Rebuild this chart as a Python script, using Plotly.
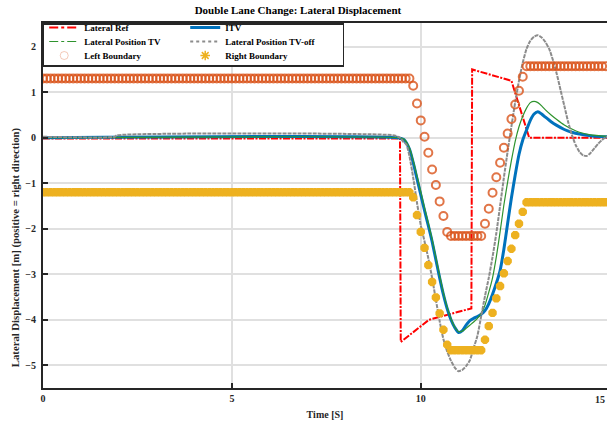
import plotly.graph_objects as go

# ---------------- data ----------------
ref_t = [0.0, 9.45, 9.47, 10.22, 11.34, 11.36, 12.40, 12.87, 14.93]
ref_y = [-0.02, -0.02, -4.49, -4.00, -3.75, 1.50, 1.25, 0.00, 0.00]

itv_t = [0.0, 9.40, 9.55, 9.70, 9.80, 9.90,
         10.0, 10.1, 10.2, 10.3, 10.4, 10.5, 10.6, 10.7, 10.8, 10.9,
         11.0, 11.1, 11.2, 11.3, 11.4, 11.5, 11.6, 11.7, 11.8, 11.9,
         12.0, 12.1, 12.2, 12.3, 12.4, 12.5, 12.6, 12.7, 12.8, 12.9,
         13.0, 13.1, 13.2, 13.3,
         13.45, 13.60, 13.80, 14.00, 14.20, 14.50, 14.93]
itv_y = [0.0, 0.0, -0.04, -0.25, -0.55, -0.90,
         -1.25, -1.60, -1.93, -2.28, -2.68, -3.08, -3.45, -3.76, -4.00, -4.17,
         -4.28, -4.24, -4.12, -4.02, -3.97, -3.93, -3.88, -3.80, -3.65, -3.44,
         -3.20, -2.92, -2.45, -1.88, -1.32, -0.82, -0.37, -0.05, 0.17, 0.38,
         0.52, 0.57, 0.52, 0.45,
         0.35, 0.27, 0.18, 0.12, 0.08, 0.04, 0.02]

tv_t = itv_t
tv_y = [0.0, 0.0, -0.03, -0.22, -0.50, -0.84,
        -1.19, -1.54, -1.88, -2.23, -2.63, -3.03, -3.41, -3.73, -3.98, -4.16,
        -4.26, -4.25, -4.19, -4.12, -4.05, -3.97, -3.86, -3.68, -3.40, -3.08,
        -2.62, -2.07, -1.48, -0.97, -0.50, -0.08, 0.24, 0.47, 0.65, 0.77,
        0.80, 0.77, 0.70, 0.61,
        0.50, 0.40, 0.28, 0.19, 0.12, 0.06, 0.03]

off_t = [0.0, 1.90, 1.95, 9.30, 9.45, 9.55, 9.62, 9.70, 9.80, 9.90,
         10.0, 10.1, 10.2, 10.3, 10.4, 10.5, 10.6, 10.7, 10.8, 10.9,
         11.0, 11.1, 11.2, 11.3, 11.4, 11.5, 11.6, 11.7, 11.8, 11.9,
         12.0, 12.1, 12.2, 12.3, 12.4, 12.5, 12.6, 12.7, 12.8, 12.9,
         13.0, 13.1, 13.2, 13.3, 13.4, 13.5, 13.6, 13.7, 13.8, 13.9,
         14.0, 14.1, 14.2, 14.3, 14.4, 14.5, 14.6, 14.7, 14.8, 14.9, 14.93]
off_y = [0.02, 0.02, 0.05, 0.05, 0.00, -0.10, -0.15, -0.40, -0.88, -1.43,
         -1.92, -2.28, -2.65, -3.08, -3.56, -4.03, -4.43, -4.70, -4.90, -5.05,
         -5.13, -5.10, -5.02, -4.89, -4.62, -4.35, -3.92, -3.48, -3.08, -2.62,
         -2.10, -1.50, -0.88, -0.30, 0.25, 0.78, 1.25, 1.65, 1.95, 2.13,
         2.22, 2.25, 2.20, 2.10, 1.95, 1.70, 1.40, 1.05, 0.70, 0.35,
         0.06, -0.16, -0.31, -0.39, -0.40, -0.33, -0.23, -0.13, -0.05, 0.01, 0.02]

# boundaries sampled every 0.1 s (150 samples, t = 0.0 ... 14.9)
boundary_t = [round(0.1 * k, 1) for k in range(150)]
left_boundary = ([1.30] * 98
                 + [1.14, 0.75, 0.38, 0.02, -0.33, -0.70, -1.04, -1.40, -1.72, -2.07]
                 + [-2.16] * 9
                 + [-1.89, -1.56, -1.21, -0.87, -0.55, -0.22, 0.09, 0.41, 0.73, 1.03, 1.34]
                 + [1.57] * 22)
right_boundary = ([-1.20] * 98
                  + [-1.31, -1.70, -2.07, -2.42, -2.80, -3.17, -3.51, -3.86, -4.22, -4.55]
                  + [-4.67] * 9
                  + [-4.44, -4.14, -3.85, -3.53, -3.26, -2.98, -2.71, -2.44, -2.14, -1.89, -1.63]
                  + [-1.42] * 22)

x_ticks = [0, 5, 10]
x_edge_tick = "15"          # tick label at the right edge of the figure
y_ticks = [-5, -4, -3, -2, -1, 0, 1, 2]

# ---------------- styles ----------------
FONT = "Liberation Serif"
AX = "#262626"
RED = "#FF0000"
BLUE = "#0072BD"
GREEN = "#2E932E"
GRAY = "#8C8C8C"
ORANGE = "rgba(217,83,25,0.8)"
YELLOW = "#EDB120"
X_MAX = 14.93

fig = go.Figure()

# data traces (legend keys are separate key-only traces below)
fig.add_trace(go.Scatter(x=ref_t, y=ref_y, mode="lines", showlegend=False,
                         line=dict(color=RED, width=2, dash="7px,1.5px,2px,1.5px")))
fig.add_trace(go.Scatter(x=itv_t, y=itv_y, mode="lines", showlegend=False,
                         line=dict(color=BLUE, width=3, shape="spline", smoothing=0.6)))
fig.add_trace(go.Scatter(x=tv_t, y=tv_y, mode="lines", showlegend=False,
                         line=dict(color=GREEN, width=1.2, shape="spline", smoothing=0.6)))
fig.add_trace(go.Scatter(x=off_t, y=off_y, mode="lines", showlegend=False,
                         line=dict(color=GRAY, width=2, dash="4px,1px", shape="spline", smoothing=0.6)))
fig.add_trace(go.Scatter(x=boundary_t, y=left_boundary, mode="markers", showlegend=False,
                         marker=dict(symbol="circle-open", size=8, color=ORANGE,
                                     line=dict(color=ORANGE, width=2))))
fig.add_trace(go.Scatter(x=boundary_t, y=right_boundary, mode="markers", showlegend=False,
                         marker=dict(symbol="asterisk-open", size=7, color=YELLOW,
                                     line=dict(color=YELLOW, width=3.2))))

# legend keys
fig.add_trace(go.Scatter(x=[None], y=[None], mode="lines", name="Lateral Ref",
                         line=dict(color=RED, width=2, dash="dashdot")))
fig.add_trace(go.Scatter(x=[None], y=[None], mode="lines", name="ITV",
                         line=dict(color=BLUE, width=3)))
fig.add_trace(go.Scatter(x=[None], y=[None], mode="lines", name="Lateral Position TV",
                         line=dict(color=GREEN, width=1.2, dash="dashdot")))
fig.add_trace(go.Scatter(x=[None], y=[None], mode="lines", name="Lateral Position TV-off",
                         line=dict(color=GRAY, width=2, dash="dot")))
fig.add_trace(go.Scatter(x=[None], y=[None], mode="markers", name="Left Boundary",
                         marker=dict(symbol="circle-open", size=8, color="rgba(217,83,25,0.3)",
                                     line=dict(color="rgba(217,83,25,0.3)", width=1))))
fig.add_trace(go.Scatter(x=[None], y=[None], mode="markers", name="Right Boundary",
                         marker=dict(symbol="asterisk-open", size=8, color=YELLOW,
                                     line=dict(color=YELLOW, width=1.5))))

tickfont = dict(family=FONT, size=10, color=AX, weight="bold")
titlefont = dict(family=FONT, size=10, color=AX, weight="bold")

fig.update_layout(
    width=607, height=423,
    margin=dict(l=43, r=0, t=23, b=35, autoexpand=False),
    paper_bgcolor="white", plot_bgcolor="white",
    title=dict(text="Double Lane Change: Lateral Displacement", x=0.452, xref="paper",
               xanchor="center", y=0.975, yref="container", yanchor="middle",
               font=dict(family=FONT, size=11, color="black", weight="bold")),
    showlegend=True,
    legend=dict(orientation="h", x=-0.0005, xanchor="left", y=1, yanchor="top",
                entrywidth=96, entrywidthmode="pixels",
                bgcolor="white", bordercolor=AX, borderwidth=1.5,
                font=dict(family=FONT, size=9, color="black", weight="bold"),
                itemwidth=30, traceorder="normal"),
    xaxis=dict(range=[0, X_MAX], tickvals=x_ticks, ticks="inside", ticklen=5,
               tickwidth=1.5, tickcolor=AX, showline=True, linecolor=AX, linewidth=2,
               mirror=True, showgrid=True, gridcolor="#E0E0E0", gridwidth=1.5,
               zeroline=False, tickfont=tickfont,
               title=dict(text="Time [S]", font=titlefont, standoff=8)),
    yaxis=dict(range=[-5.5, 2.52], tickvals=y_ticks, ticks="inside", ticklen=5,
               tickwidth=1.5, tickcolor=AX, showline=True, linecolor=AX, linewidth=2,
               showgrid=True, gridcolor="#E0E0E0", gridwidth=1.5,
               zeroline=False, tickfont=tickfont, ticklabelstandoff=3),
    annotations=[
        dict(text="Lateral Displacement [m] (positive = right direction)",
             xref="paper", yref="paper", x=-0.0496, y=0.386,
             xanchor="center", yanchor="middle", textangle=-90, showarrow=False,
             font=dict(family=FONT, size=10.7, color=AX, weight="bold")),
        dict(text=x_edge_tick, xref="paper", yref="paper",
             x=1.0, y=-0.0315, xanchor="right", yanchor="middle", showarrow=False,
             font=tickfont),
    ],
)

# compact the legend into a MATLAB-style tight box: 3 rows x 2 columns
post_js = """
(function(){
  var gd = document.getElementById('{plot_id}');
  function fix(){
    var lg = gd.querySelector('g.legend');
    if(!lg) return;
    var items = lg.querySelectorAll('g.traces');
    if(!items.length) return;
    var tr0 = items[0].getAttribute('transform') || '';
    var m = tr0.match(/translate\\(\\s*([-\\d.eE]+)[ ,]+([-\\d.eE]+)\\s*\\)/);
    var x0 = m ? parseFloat(m[1]) : 0;
    for (var i = 0; i < items.length; i++){
      var row = Math.floor(i / 2), col = i % 2;
      items[i].setAttribute('transform',
        'translate(' + (x0 + 141 * col) + ',' + (4.5 + 14 * row) + ')');
    }
    var bg = lg.querySelector('rect.bg');
    if(bg){ bg.setAttribute('height', 42); bg.setAttribute('width', 300); }
  }
  fix();
  setTimeout(fix, 30);
  setTimeout(fix, 300);
  if (gd.on) gd.on('plotly_afterplot', function(){ setTimeout(fix, 0); });
})();
"""

fig.write_html("out.html", post_script=post_js)
